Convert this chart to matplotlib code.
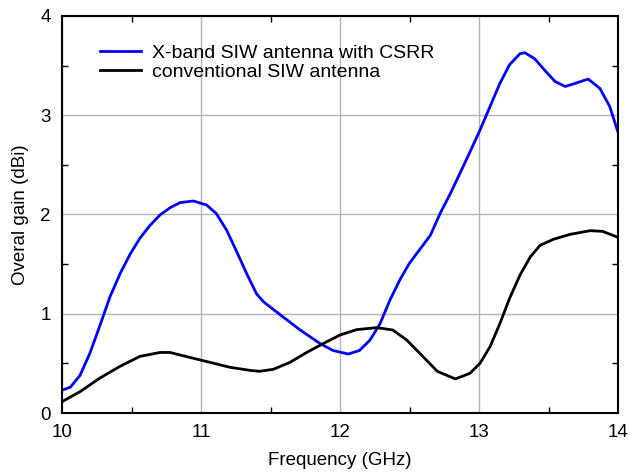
import matplotlib
matplotlib.use("Agg")
import matplotlib.pyplot as plt
from matplotlib.ticker import MultipleLocator

plt.rcParams['font.family'] = ['Liberation Sans', 'DejaVu Sans']

freq_csrr = [10.0, 10.06, 10.13, 10.2, 10.27, 10.345, 10.42, 10.49, 10.56, 10.63, 10.705, 10.78,
             10.85, 10.945, 11.04, 11.11, 11.185, 11.257, 11.33, 11.4, 11.45, 11.5, 11.57,
             11.71, 11.856, 11.95, 12.06, 12.14, 12.216, 12.288, 12.36, 12.43, 12.5, 12.575,
             12.65, 12.72, 12.79, 12.863, 12.935, 13.007, 13.08, 13.15, 13.22, 13.295, 13.33,
             13.4, 13.475, 13.547, 13.62, 13.69, 13.786, 13.87, 13.94, 14.0]
gain_csrr = [0.23, 0.26, 0.38, 0.60, 0.87, 1.17, 1.41, 1.60, 1.76, 1.885, 1.995, 2.07,
             2.12, 2.136, 2.096, 2.01, 1.84, 1.625, 1.40, 1.20, 1.12, 1.065, 0.99,
             0.84, 0.70, 0.63, 0.594, 0.63, 0.735, 0.90, 1.14, 1.34, 1.51, 1.65,
             1.79, 2.01, 2.20, 2.415, 2.63, 2.85, 3.09, 3.32, 3.51, 3.62, 3.63,
             3.57, 3.45, 3.34, 3.29, 3.32, 3.365, 3.27, 3.09, 2.83]

freq_conv = [10.0, 10.13, 10.27, 10.417, 10.56, 10.705, 10.777, 10.92, 11.065, 11.21, 11.35,
             11.42, 11.52, 11.64, 11.76, 11.88, 12.0, 12.12, 12.264, 12.38, 12.48, 12.575,
             12.7, 12.83, 12.935, 13.007, 13.08, 13.15, 13.22, 13.295, 13.37, 13.44, 13.535,
             13.655, 13.8, 13.89, 14.0]
gain_conv = [0.114, 0.215, 0.35, 0.47, 0.57, 0.61, 0.61, 0.56, 0.51, 0.46, 0.43,
             0.42, 0.44, 0.51, 0.61, 0.70, 0.786, 0.84, 0.86, 0.836, 0.735, 0.60,
             0.42, 0.343, 0.40, 0.50, 0.67, 0.90, 1.155, 1.39, 1.575, 1.69, 1.75,
             1.80, 1.837, 1.83, 1.77]

xticks = [10, 11, 12, 13, 14]
yticks = [0, 1, 2, 3, 4]

fig = plt.figure(figsize=(6.29, 4.73), dpi=100)
ax = fig.add_axes([62/629, 60/473, 556/629, 397/473])

ax.plot(freq_csrr, gain_csrr, color='#0000ff', lw=2.0, label='X-band SIW antenna with CSRR')
ax.plot(freq_conv, gain_conv, color='black', lw=2.0, label='conventional SIW antenna')

ax.set_xlim(10, 14)
ax.set_ylim(0, 4)
ax.set_xticks(xticks)
ax.set_yticks(yticks)
ax.xaxis.set_minor_locator(MultipleLocator(0.5))
ax.yaxis.set_minor_locator(MultipleLocator(0.5))
ax.grid(True, which='major', color='#b4b4b4', lw=1.0)
ax.tick_params(which='both', direction='in', top=True, right=True, labelsize=13.5)
ax.tick_params(which='major', length=0, pad=8)
ax.tick_params(which='minor', length=4, width=1)
for s in ax.spines.values():
    s.set_linewidth(1.5)

ax.set_xlabel('Frequency (GHz)', fontsize=13.5, labelpad=8)
ax.set_ylabel('Overal gain (dBi)', fontsize=13.5, labelpad=8)

ax.legend(loc='upper left', bbox_to_anchor=(0.055, 0.948), frameon=False, fontsize=14,
          handlelength=2.1, handletextpad=0.55, labelspacing=0.08, borderaxespad=0)

fig.savefig('out.png', dpi=100)
